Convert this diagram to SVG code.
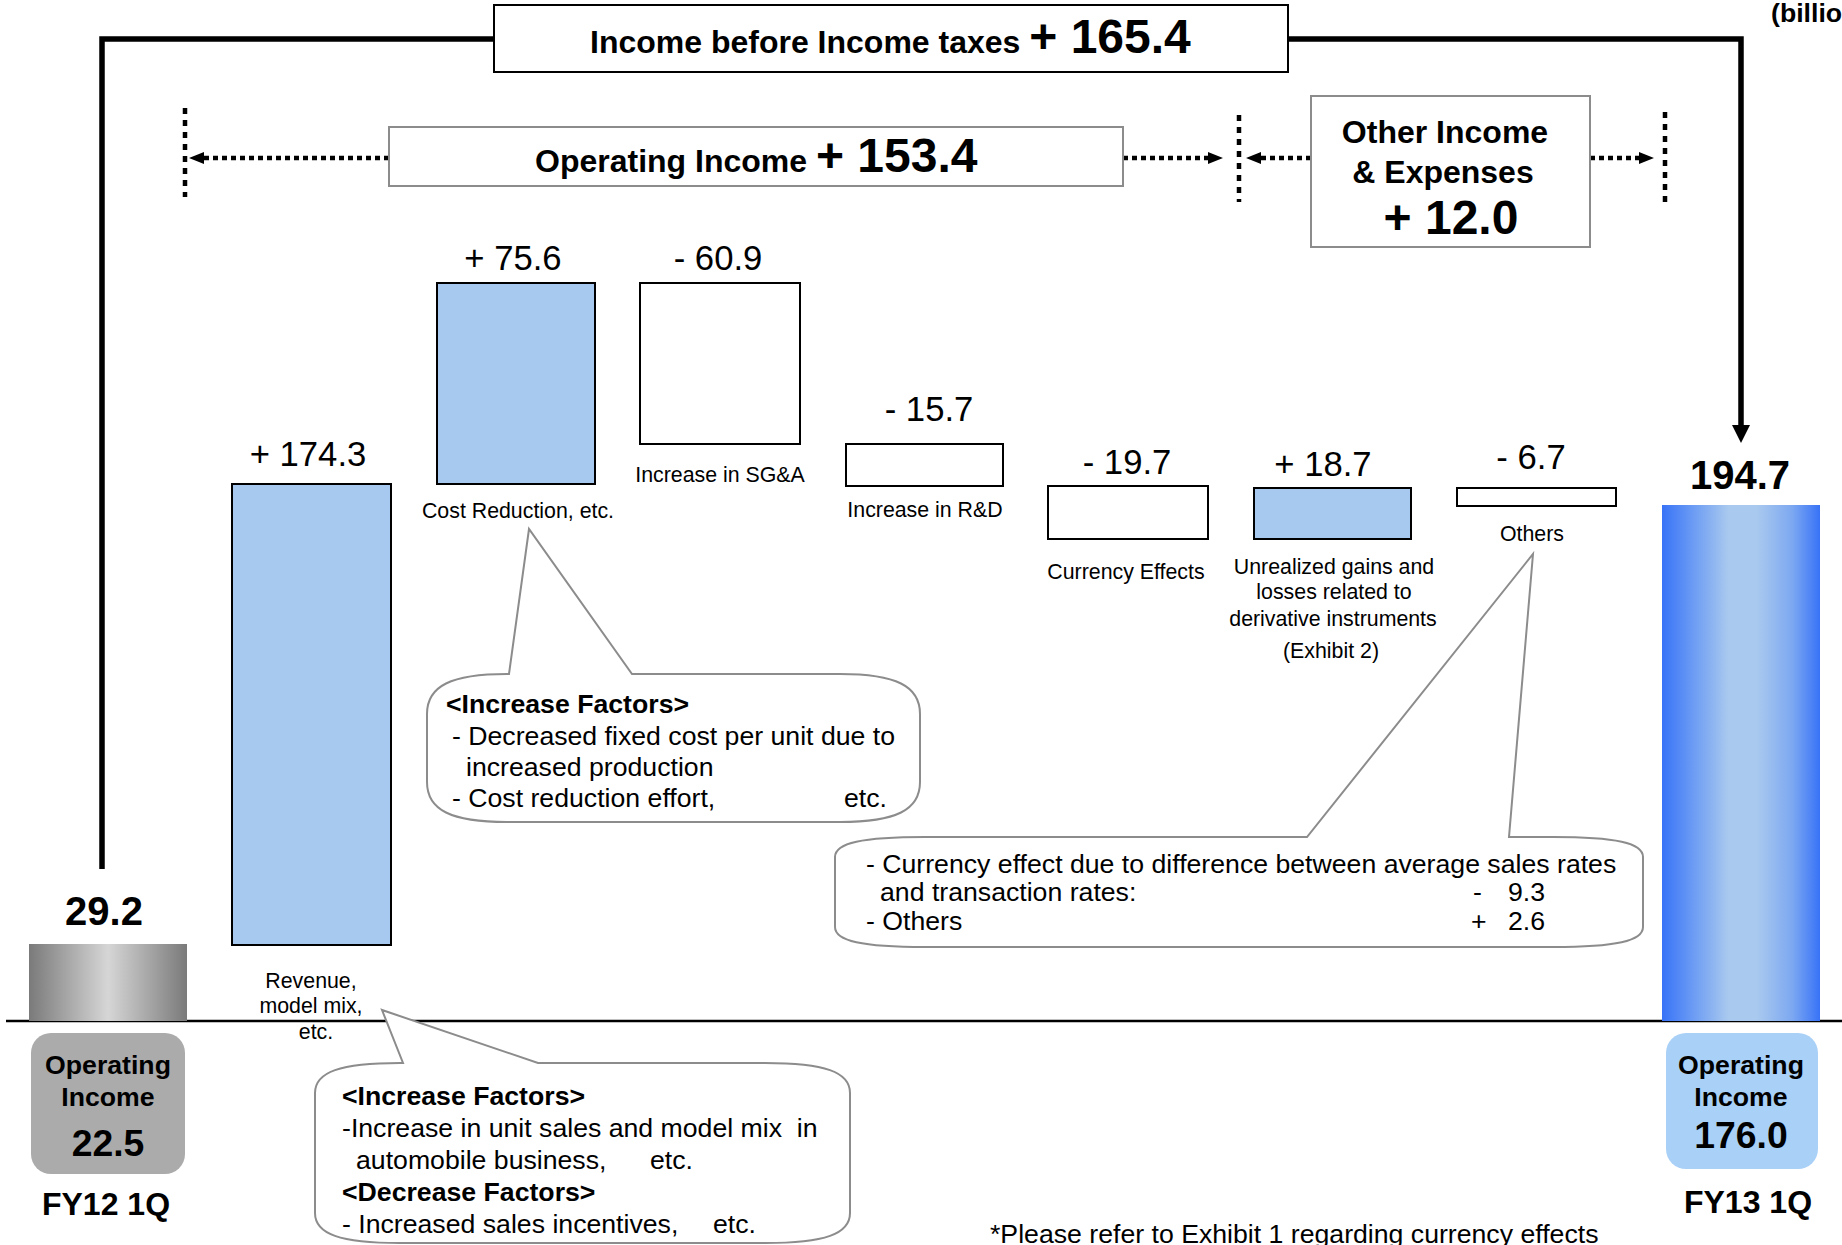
<svg xmlns="http://www.w3.org/2000/svg" width="1842" height="1245" viewBox="0 0 1842 1245">
<style>
text{font-family:"Liberation Sans",Arial,sans-serif;fill:#000}
.b{font-weight:bold}
.m{text-anchor:middle}
.lbl{font-size:21.33px}
.val{font-size:34.67px}
.call{font-size:26.67px}
.hdr{font-size:32px}
.big{font-size:48px}
.bar{stroke:#000;stroke-width:2}
.pos{fill:#a7c9ef}
.neg{fill:#fff}
.callout{fill:#fff;stroke:#8c8c8c;stroke-width:2}
.dot{fill:none;stroke:#000;stroke-width:4.5;stroke-dasharray:5 4}
.vdot{fill:none;stroke:#000;stroke-width:4.5;stroke-dasharray:6 6}
.thick{fill:none;stroke:#000;stroke-width:5.5}
</style>
<defs>
<linearGradient id="gGray" x1="0" y1="0" x2="1" y2="0">
<stop offset="0" stop-color="#7a7a7a"/><stop offset="0.5" stop-color="#d6d6d6"/><stop offset="1" stop-color="#7a7a7a"/>
</linearGradient>
<linearGradient id="gBlue" x1="0" y1="0" x2="1" y2="0">
<stop offset="0" stop-color="#3873f7"/><stop offset="0.2" stop-color="#6c9cf4"/><stop offset="0.42" stop-color="#a9c9ee"/><stop offset="0.6" stop-color="#a9c9ee"/><stop offset="0.82" stop-color="#7ea9f1"/><stop offset="1" stop-color="#3873f7"/>
</linearGradient>
<marker id="arrThick" markerUnits="userSpaceOnUse" markerWidth="20" markerHeight="20" refX="0" refY="9" orient="auto"><path d="M0,0 L18,9 L0,18 Z" fill="#000"/></marker>
<marker id="arrDot" markerUnits="userSpaceOnUse" markerWidth="16" markerHeight="14" refX="0" refY="6" orient="auto"><path d="M0,0 L15,6 L0,12 Z" fill="#000"/></marker>
</defs>
<rect width="1842" height="1245" fill="#fff"/>

<text class="b" x="1771" y="22" style="font-size:26.67px">(billio</text>

<g id="connectors">
<path class="thick" d="M102,869 V39 H494"/>
<path class="thick" d="M1288,39 H1741 V425" marker-end="url(#arrThick)"/>
<line class="vdot" x1="185" y1="108" x2="185" y2="197"/>
<line class="vdot" x1="1239" y1="115" x2="1239" y2="202"/>
<line class="vdot" x1="1665" y1="112" x2="1665" y2="202"/>
<line class="dot" x1="389" y1="158" x2="204" y2="158" marker-end="url(#arrDot)"/>
<line class="dot" x1="1123" y1="158" x2="1208" y2="158" marker-end="url(#arrDot)"/>
<line class="dot" x1="1311" y1="158" x2="1261" y2="158" marker-end="url(#arrDot)"/>
<line class="dot" x1="1590" y1="158" x2="1639" y2="158" marker-end="url(#arrDot)"/>
<line x1="6" y1="1021" x2="1842" y2="1021" stroke="#000" stroke-width="2.5"/>
</g>

<g id="income-before-taxes">
<rect x="494" y="5" width="794" height="67" fill="#fff" stroke="#000" stroke-width="2"/>
<text class="b" x="590" y="53"><tspan class="hdr">Income before Income taxes </tspan><tspan class="big">+ 165.4</tspan></text>
</g>

<g id="operating-income-delta">
<rect x="389" y="127" width="734" height="59" fill="#fff" stroke="#8c8c8c" stroke-width="2"/>
<text class="b" x="535" y="172"><tspan class="hdr">Operating Income </tspan><tspan class="big">+ 153.4</tspan></text>
</g>

<g id="other-income">
<rect x="1311" y="96" width="279" height="151" fill="#fff" stroke="#8c8c8c" stroke-width="2"/>
<text class="b m hdr" x="1445" y="143">Other Income</text>
<text class="b m hdr" x="1443" y="183">&amp; Expenses</text>
<text class="b m big" x="1451" y="234">+ 12.0</text>
</g>

<g id="fy12-bar">
<rect x="29" y="944" width="158" height="77" fill="url(#gGray)"/>
<text class="b m" x="104" y="925" style="font-size:40px">29.2</text>
</g>

<g id="revenue">
<rect class="bar pos" x="232" y="484" width="159" height="461"/>
<text class="m val" x="308" y="466">+ 174.3</text>
<text class="m lbl" x="311" y="988">Revenue,</text>
<text class="m lbl" x="311" y="1013">model mix,</text>
<text class="m lbl" x="316" y="1039">etc.</text>
</g>

<g id="cost-reduction">
<rect class="bar pos" x="437" y="283" width="158" height="201"/>
<text class="m val" x="513" y="270">+ 75.6</text>
<text class="m lbl" x="518" y="518">Cost Reduction, etc.</text>
</g>

<g id="sga">
<rect class="bar neg" x="640" y="283" width="160" height="161"/>
<text class="m val" x="718" y="270">- 60.9</text>
<text class="m lbl" x="720" y="482">Increase in SG&amp;A</text>
</g>

<g id="rd">
<rect class="bar neg" x="846" y="444" width="157" height="42"/>
<text class="m val" x="929" y="421">- 15.7</text>
<text class="m lbl" x="925" y="517">Increase in R&amp;D</text>
</g>

<g id="currency">
<rect class="bar neg" x="1048" y="486" width="160" height="53"/>
<text class="m val" x="1127" y="474">- 19.7</text>
<text class="m lbl" x="1126" y="579">Currency Effects</text>
</g>

<g id="unrealized">
<rect class="bar pos" x="1254" y="488" width="157" height="51"/>
<text class="m val" x="1323" y="476">+ 18.7</text>
<text class="m lbl" x="1334" y="574">Unrealized gains and</text>
<text class="m lbl" x="1334" y="599">losses related to</text>
<text class="m lbl" x="1333" y="626">derivative instruments</text>
<text class="m lbl" x="1331" y="658">(Exhibit 2)</text>
</g>

<g id="others">
<rect class="bar neg" x="1457" y="488" width="159" height="18"/>
<text class="m val" x="1531" y="469">- 6.7</text>
<text class="m lbl" x="1532" y="541">Others</text>
</g>

<g id="fy13-bar">
<rect x="1662" y="505" width="158" height="516" fill="url(#gBlue)"/>
<text class="b m" x="1740" y="489" style="font-size:40px">194.7</text>
</g>

<g id="fy12-box">
<rect x="31" y="1033" width="154" height="141" rx="20" fill="#ababab"/>
<text class="b m" x="108" y="1074" style="font-size:26.67px">Operating</text>
<text class="b m" x="108" y="1106" style="font-size:26.67px">Income</text>
<text class="b m" x="108" y="1156" style="font-size:37.33px">22.5</text>
<text class="b m hdr" x="106" y="1215">FY12 1Q</text>
</g>

<g id="fy13-box">
<rect x="1666" y="1033" width="152" height="136" rx="20" fill="#a9d0f7"/>
<text class="b m" x="1741" y="1074" style="font-size:26.67px">Operating</text>
<text class="b m" x="1741" y="1106" style="font-size:26.67px">Income</text>
<text class="b m" x="1741" y="1148" style="font-size:37.33px">176.0</text>
<text class="b m hdr" x="1748" y="1213">FY13 1Q</text>
</g>

<g id="callout-cost">
<path class="callout" d="M427,714 C427,686 451,674 507,674 L509,674 L529,529 L632,674 L840,674 C896,674 920,686 920,714 L920,782 C920,810 896,822 840,822 L507,822 C451,822 427,810 427,782 Z"/>
<text class="b call" x="446" y="713">&lt;Increase Factors&gt;</text>
<text class="call" x="452" y="745">- Decreased fixed cost per unit due to</text>
<text class="call" x="466" y="776">increased production</text>
<text class="call" x="452" y="807">- Cost reduction effort,</text>
<text class="call" x="844" y="807">etc.</text>
</g>

<g id="callout-others">
<path class="callout" d="M835,857 C835,843 862,837 925,837 L1307,837 L1533,554 L1509,837 L1553,837 C1616,837 1643,843 1643,857 L1643,927 C1643,941 1616,947 1553,947 L925,947 C862,947 835,941 835,927 Z"/>
<text class="call" x="866" y="873">- Currency effect due to difference between average sales rates</text>
<text class="call" x="880" y="901">and transaction rates:</text>
<text class="call" x="1473" y="901">-</text>
<text class="call" x="1508" y="901">9.3</text>
<text class="call" x="866" y="930">- Others</text>
<text class="call" x="1471" y="930">+</text>
<text class="call" x="1508" y="930">2.6</text>
</g>

<g id="callout-revenue">
<path class="callout" d="M315,1093 C315,1072 340,1063 400,1063 L403,1063 L382,1010 L538,1063 L765,1063 C825,1063 850,1072 850,1093 L850,1213 C850,1234 825,1243 765,1243 L400,1243 C340,1243 315,1234 315,1213 Z"/>
<text class="b call" x="342" y="1105">&lt;Increase Factors&gt;</text>
<text class="call" x="342" y="1137" xml:space="preserve">-Increase in unit sales and model mix  in</text>
<text class="call" x="356" y="1169">automobile business,</text>
<text class="call" x="650" y="1169">etc.</text>
<text class="b call" x="342" y="1201">&lt;Decrease Factors&gt;</text>
<text class="call" x="342" y="1233">- Increased sales incentives,</text>
<text class="call" x="713" y="1233">etc.</text>
</g>

<text class="call" x="990" y="1243">*Please refer to Exhibit 1 regarding currency effects</text>
</svg>
